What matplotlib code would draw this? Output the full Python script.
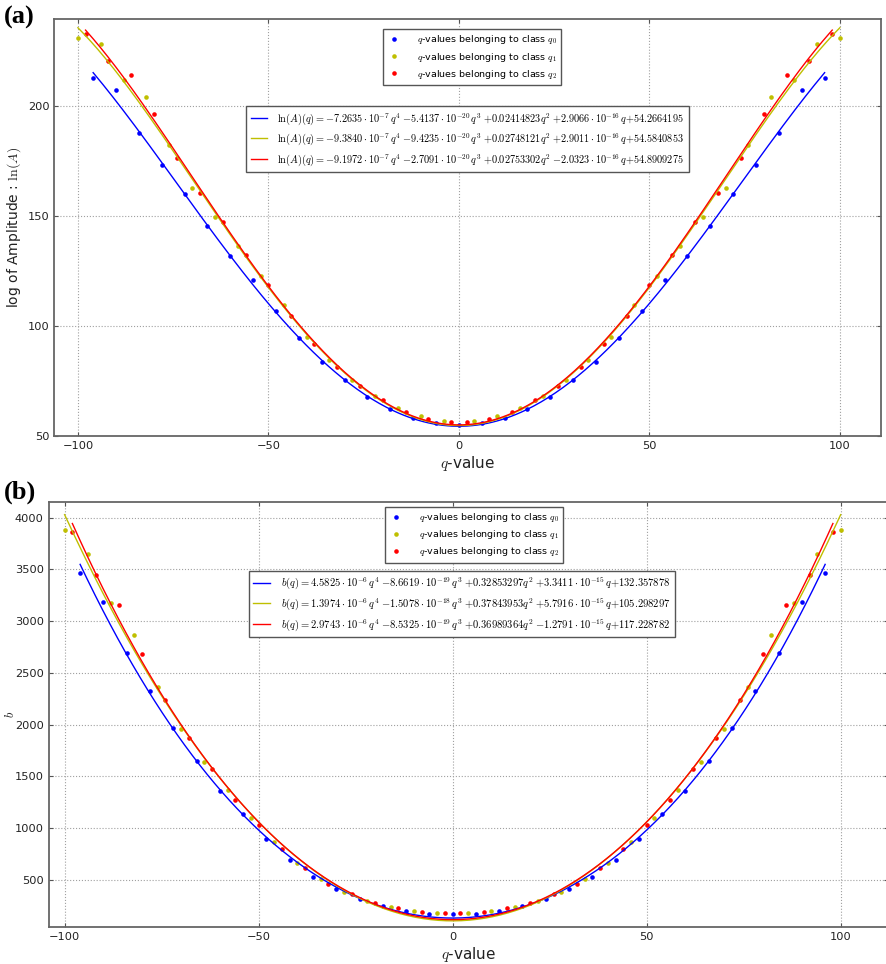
import matplotlib
matplotlib.use("Agg")
import matplotlib.pyplot as plt
import numpy as np

plt.rcParams['mathtext.fontset'] = 'cm'
plt.rcParams['font.family'] = 'DejaVu Sans'

# q-values of each class
q0 = [-96, -90, -84, -78, -72, -66, -60, -54, -48, -42, -36, -30, -24, -18, -12, -6, 0,
      6, 12, 18, 24, 30, 36, 42, 48, 54, 60, 66, 72, 78, 84, 90, 96]
q1 = [-100, -94, -88, -82, -76, -70, -64, -58, -52, -46, -40, -34, -28, -22, -16, -10, -4,
      4, 10, 16, 22, 28, 34, 40, 46, 52, 58, 64, 70, 76, 82, 88, 94, 100]
q2 = [-98, -92, -86, -80, -74, -68, -62, -56, -50, -44, -38, -32, -26, -20, -14, -8, -2,
      2, 8, 14, 20, 26, 32, 38, 44, 50, 56, 62, 68, 74, 80, 86, 92, 98]

# (a) log of amplitude
lnA0 = [212.9, 207.3, 187.7, 173.1, 159.7, 145.2, 131.6, 120.8, 106.6, 94.5, 83.6, 75.1, 67.7, 62.3, 58.0, 55.6, 54.7,
        55.6, 58.0, 62.3, 67.7, 75.1, 83.6, 94.5, 106.6, 120.8, 131.6, 145.2, 159.7, 173.1, 187.7, 207.3, 212.9]
lnA1 = [230.7, 228.3, 211.8, 204.1, 182.0, 162.5, 149.3, 136.4, 122.5, 109.3, 95.0, 84.2, 75.1, 68.0, 62.6, 58.9, 56.5,
        56.5, 58.9, 62.6, 68.0, 75.1, 84.2, 95.0, 109.3, 122.5, 136.4, 149.3, 162.5, 182.0, 204.1, 211.8, 228.3, 230.7]
lnA2 = [232.8, 220.4, 214.2, 196.2, 176.1, 160.2, 147.2, 132.2, 118.7, 104.5, 91.8, 81.0, 72.7, 66.0, 60.9, 57.6, 56.2,
        56.2, 57.6, 60.9, 66.0, 72.7, 81.0, 91.8, 104.5, 118.7, 132.2, 147.2, 160.2, 176.1, 196.2, 214.2, 220.4, 232.8]

# (b) b
b0 = [3465, 3185, 2696, 2322, 1971, 1653, 1360, 1134, 896, 693, 532, 410, 320, 252, 200, 175, 172,
      175, 200, 252, 320, 410, 532, 693, 896, 1134, 1360, 1653, 1971, 2322, 2696, 3185, 3465]
b1 = [3884, 3652, 3172, 2870, 2361, 1955, 1637, 1369, 1096, 870, 661, 506, 384, 300, 239, 200, 178,
      178, 200, 239, 300, 384, 506, 661, 870, 1096, 1369, 1637, 1955, 2361, 2870, 3172, 3652, 3884]
b2 = [3858, 3443, 3153, 2683, 2242, 1868, 1569, 1273, 1028, 803, 613, 465, 362, 275, 226, 191, 178,
      178, 191, 226, 275, 362, 465, 613, 803, 1028, 1273, 1569, 1868, 2242, 2683, 3153, 3443, 3858]

# fitted polynomial coefficients (q^4, q^3, q^2, q, 1) as given in the legends
fitA0 = [-7.2635e-7, -5.4137e-20, 0.02414823, 2.9066e-16, 54.2664195]
fitA1 = [-9.3840e-7, -9.4235e-20, 0.02748121, 2.9011e-16, 54.5840853]
fitA2 = [-9.1972e-7, -2.7091e-20, 0.02753302, -2.0323e-16, 54.8909275]
fitB0 = [4.5825e-6, -8.6619e-19, 0.32853297, 3.3411e-15, 132.357878]
fitB1 = [1.3974e-6, -1.5078e-18, 0.37843953, 5.7916e-15, 105.298297]
fitB2 = [2.9743e-6, -8.5325e-19, 0.36989364, -1.2791e-15, 117.228782]

labA = [r"$\ln(A)(q)={-}7.2635\cdot10^{-7}\,q^4\;{-}5.4137\cdot10^{-20}\,q^3\;{+}0.02414823q^2\;{+}2.9066\cdot10^{-16}\,q{+}54.2664195$",
        r"$\ln(A)(q)={-}9.3840\cdot10^{-7}\,q^4\;{-}9.4235\cdot10^{-20}\,q^3\;{+}0.02748121q^2\;{+}2.9011\cdot10^{-16}\,q{+}54.5840853$",
        r"$\ln(A)(q)={-}9.1972\cdot10^{-7}\,q^4\;{-}2.7091\cdot10^{-20}\,q^3\;{+}0.02753302q^2\;{-}2.0323\cdot10^{-16}\,q{+}54.8909275$"]
labB = [r"$b(q)=4.5825\cdot10^{-6}\,q^4\;{-}8.6619\cdot10^{-19}\,q^3\;{+}0.32853297q^2\;{+}3.3411\cdot10^{-15}\,q{+}132.357878$",
        r"$b(q)=1.3974\cdot10^{-6}\,q^4\;{-}1.5078\cdot10^{-18}\,q^3\;{+}0.37843953q^2\;{+}5.7916\cdot10^{-15}\,q{+}105.298297$",
        r"$b(q)=2.9743\cdot10^{-6}\,q^4\;{-}8.5325\cdot10^{-19}\,q^3\;{+}0.36989364q^2\;{-}1.2791\cdot10^{-15}\,q{+}117.228782$"]
labP = [r"$q$-values belonging to class $q_0$",
        r"$q$-values belonging to class $q_1$",
        r"$q$-values belonging to class $q_2$"]

cols = ['b', 'y', 'r']
W, H = 887, 964
fig = plt.figure(figsize=(W / 100, H / 100), dpi=100)


def panel(rect, ys, fits, flabels, xlim, ylim, yticks, ylabel, ylab_x, ylab_size,
          leg1, leg2, fsz2, letter, letterpos):
    ax = fig.add_axes(rect)
    qs = [q0, q1, q2]
    pts = []
    for q, y, c in zip(qs, ys, cols):
        p, = ax.plot(q, y, 'o', color=c, ms=3.3, mec='none')
        pts.append(p)
    lns = []
    for q, f, c in zip(qs, fits, cols):
        xx = np.linspace(min(q), max(q), 300)
        l, = ax.plot(xx, np.polyval(f, xx), '-', color=c, lw=1.0)
        lns.append(l)
    ax.set_xlim(*xlim)
    ax.set_ylim(*ylim)
    ax.set_xticks([-100, -50, 0, 50, 100])
    ax.set_xticklabels(['\u2212100', '\u221250', '0', '50', '100'])
    ax.set_yticks(yticks)
    ax.grid(True, ls=':', color='#a0a0a0', lw=0.8)
    ax.tick_params(direction='in', top=True, right=True, labelsize=8.2, length=3,
                   color='#555555', labelcolor='#222222')
    for s in ax.spines.values():
        s.set_color('#666666')
        s.set_linewidth(1.3)
    ax.set_xlabel(r"$q$-value", fontsize=11, color='#222222', labelpad=2)
    ax.set_ylabel(ylabel, fontsize=ylab_size, color='#222222')
    ax.yaxis.set_label_coords(ylab_x, 0.5)
    l1 = ax.legend(pts, labP, loc='upper left', bbox_to_anchor=leg1, bbox_transform=fig.transFigure,
                   borderaxespad=0, fontsize=6.8, numpoints=1, fancybox=False, framealpha=1,
                   edgecolor='#555555', handlelength=1.5, labelspacing=0.45, borderpad=0.45,
                   handletextpad=1.6)
    l1.get_frame().set_linewidth(1.0)
    ax.add_artist(l1)
    l2 = ax.legend(lns, flabels, loc='upper left', bbox_to_anchor=leg2, bbox_transform=fig.transFigure,
                   borderaxespad=0, fontsize=fsz2, fancybox=False, framealpha=1,
                   edgecolor='#555555', handlelength=1.6, labelspacing=0.45, borderpad=0.45,
                   handletextpad=1.0)
    l2.get_frame().set_linewidth(1.0)
    fig.text(letterpos[0], letterpos[1], letter, fontsize=19, fontweight='bold',
             family='Liberation Serif', va='top', ha='left')
    return ax


axa = panel([54.3 / W, 1 - 436.3 / H, (881 - 54.3) / W, (436.3 - 19.3) / H],
            [lnA0, lnA1, lnA2], [fitA0, fitA1, fitA2], labA,
            (-106.2, 110.8), (49.7, 239.4), [50, 100, 150, 200],
            r"log of Amplitude : $\ln(A)$", (23 - 54.3) / (881 - 54.3), 10,
            (383 / W, 1 - 29 / H), (246 / W, 1 - 106 / H), 7.4, '(a)', (4 / W, 1 - 6 / H))

axb = panel([48.7 / W, 1 - 927 / H, (888 - 48.7) / W, (927 - 502.3) / H],
            [b0, b1, b2], [fitB0, fitB1, fitB2], labB,
            (-104.1, 112.2), (46, 4149), [500, 1000, 1500, 2000, 2500, 3000, 3500, 4000],
            r"$b$", (17 - 48.7) / (888 - 48.7), 9,
            (385 / W, 1 - 506.7 / H), (248.7 / W, 1 - 570.7 / H), 7.6, '(b)', (4 / W, 1 - 481 / H))

fig.savefig("out.png", dpi=100)
